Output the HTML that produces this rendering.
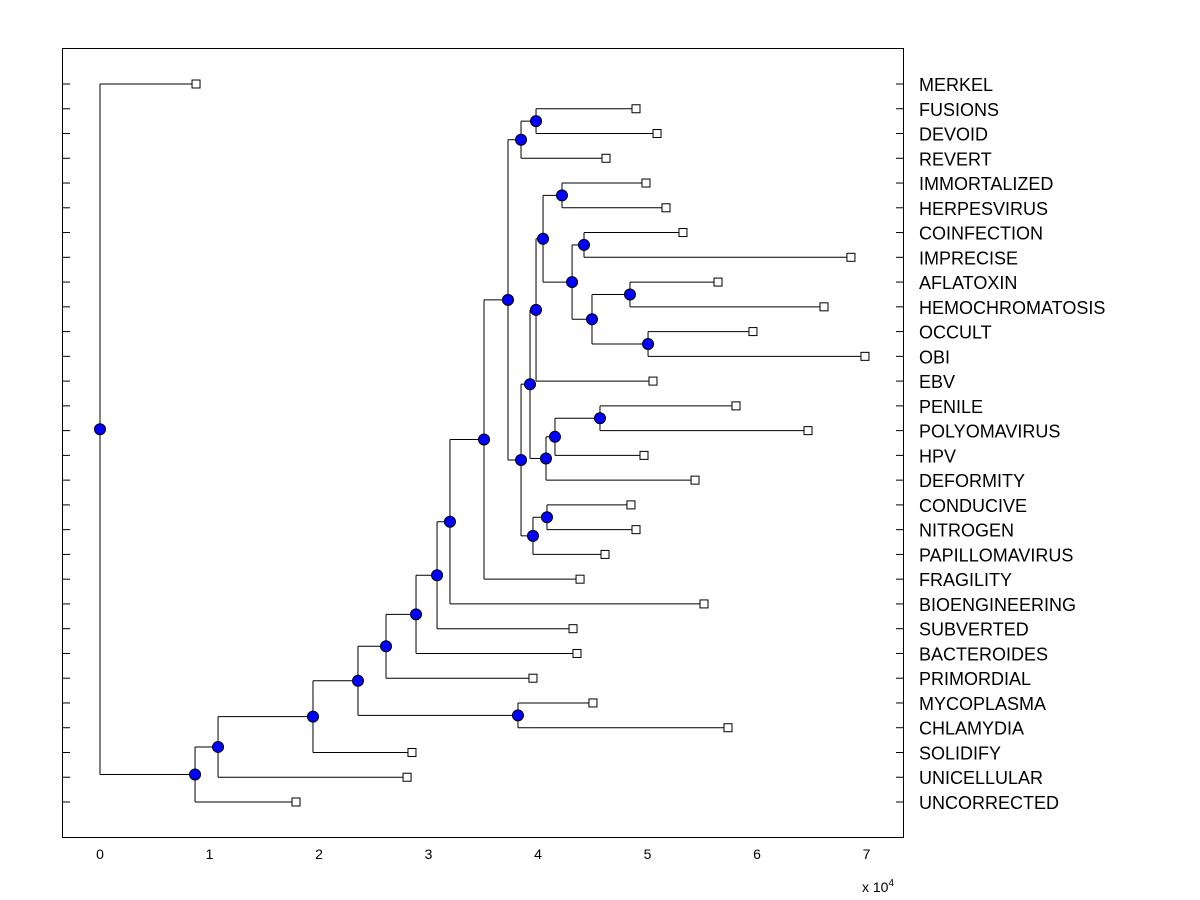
<!DOCTYPE html>
<html><head><meta charset="utf-8"><style>
body{margin:0;background:#fff;}
svg{display:block;font-family:"Liberation Sans",Arial,sans-serif;}
</style></head><body>
<svg id="chart" width="1200" height="900" viewBox="0 0 1200 900">
<rect x="0" y="0" width="1200" height="900" fill="#fff"/>
<rect x="62.5" y="48.5" width="841" height="789" fill="#fff" stroke="#000" stroke-width="1"/>
<g id="ticks"></g><g id="tree"></g><g id="labels"></g>
<text x="862" y="892" font-size="14">x 10<tspan dy="-6" font-size="10">4</tspan></text>
</svg>
<script>
const leafNames = ["MERKEL","FUSIONS","DEVOID","REVERT","IMMORTALIZED","HERPESVIRUS","COINFECTION","IMPRECISE","AFLATOXIN","HEMOCHROMATOSIS","OCCULT","OBI","EBV","PENILE","POLYOMAVIRUS","HPV","DEFORMITY","CONDUCIVE","NITROGEN","PAPILLOMAVIRUS","FRAGILITY","BIOENGINEERING","SUBVERTED","BACTEROIDES","PRIMORDIAL","MYCOPLASMA","CHLAMYDIA","SOLIDIFY","UNICELLULAR","UNCORRECTED"];
const leafDist = [0.877,4.895,5.087,4.621,4.986,5.169,5.324,6.858,5.644,6.612,5.963,6.986,5.050,5.808,6.466,4.968,5.434,4.849,4.895,4.612,4.384,5.516,4.320,4.356,3.954,4.502,5.735,2.849,2.804,1.790];
const nodeChildren = [[1,2],[30,3],[4,5],[6,7],[8,9],[10,11],[34,35],[33,36],[32,37],[38,12],[13,14],[40,15],[41,16],[39,42],[17,18],[44,19],[43,45],[31,46],[47,20],[48,21],[49,22],[50,23],[51,24],[25,26],[52,53],[54,27],[55,28],[56,29],[0,57]];
const nodeDist = [3.982,3.845,4.219,4.420,4.840,5.005,4.493,4.311,4.046,3.982,4.566,4.155,4.073,3.927,4.082,3.954,3.845,3.726,3.507,3.196,3.078,2.886,2.612,3.817,2.356,1.945,1.078,0.868,0];
const xTicks = [0,1,2,3,4,5,6,7];

const NS="http://www.w3.org/2000/svg";
const X0=100, XS=109.5;
const xScale=v=>X0+v*XS;
const yScale=i=>84+i*(802-84)/29;
function mk(tag,attrs,parent){const e=document.createElementNS(NS,tag);for(const k in attrs)e.setAttribute(k,attrs[k]);parent.appendChild(e);return e;}
const tree=document.getElementById('tree'), ticks=document.getElementById('ticks'), labels=document.getElementById('labels');
const nL=leafNames.length;
const px=[],py=[];
leafNames.forEach((n,i)=>{px[i]=xScale(leafDist[i]);py[i]=yScale(i);});
nodeChildren.forEach((c,k)=>{const id=nL+k;px[id]=xScale(nodeDist[k]);py[id]=(py[c[0]]+py[c[1]])/2;});
leafNames.forEach((n,i)=>{
  const t=mk('line',{x1:62.5,x2:70,y1:yScale(i),y2:yScale(i),stroke:'#000','stroke-width':1},ticks);
  
  
  const t2=mk('line',{x1:896,x2:903.5,y1:yScale(i),y2:yScale(i),stroke:'#000','stroke-width':1},ticks);
  
  
  const l=mk('text',{x:919,y:yScale(i)+7,'font-size':18},labels);
  l.textContent=n;
  
  
});
xTicks.forEach(v=>{
  const t=mk('text',{x:xScale(v),y:859,'font-size':14,'text-anchor':'middle'},labels);
  t.textContent=v;
  
  
});
nodeChildren.forEach((c,k)=>{
  const id=nL+k;
  const ys=c.map(j=>py[j]);
  const v=mk('line',{x1:px[id],x2:px[id],y1:Math.min(...ys),y2:Math.max(...ys),stroke:'#000','stroke-width':1},tree);
  
  
  c.forEach(j=>{
    const h=mk('line',{x1:px[id],x2:px[j],y1:py[j],y2:py[j],stroke:'#000','stroke-width':1},tree);
    
    
  });
});
leafNames.forEach((n,i)=>{
  const r=mk('rect',{x:px[i]-4,y:py[i]-4,width:8,height:8,fill:'#fff',stroke:'#000','stroke-width':1},tree);
  
  
});
nodeChildren.forEach((c,k)=>{
  const id=nL+k;
  const m=mk('circle',{cx:px[id],cy:py[id],r:5.5,fill:'#0000ff',stroke:'#000','stroke-width':1},tree);
  
  
});
</script>
</body></html>
